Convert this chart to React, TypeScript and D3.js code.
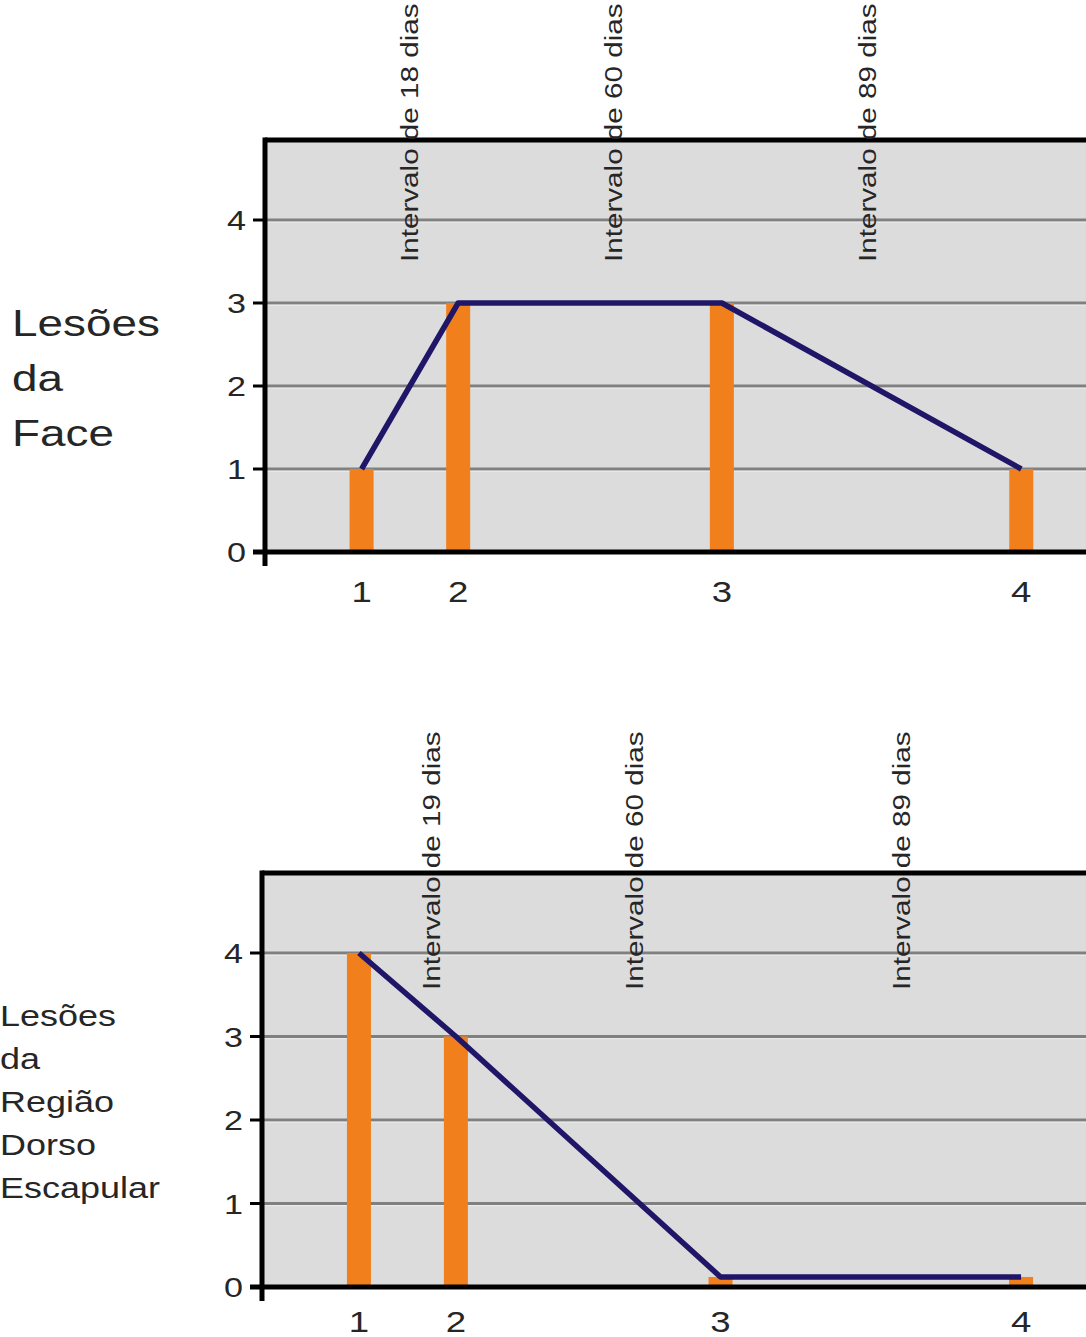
import React from "react";
import * as d3 from "d3";

// ---------- data ----------
const pointLabels = ["1", "2", "3", "4"];
const pointPositions = [1, 2, 4.73, 7.83];
const faceValues = [1, 3, 3, 1];
const dorsoValues = [4, 3, 0.12, 0.12];
const yTickValues = [0, 1, 2, 3, 4];
const faceIntervalLabels = ["Intervalo de 18 dias", "Intervalo de 60 dias", "Intervalo de 89 dias"];
const faceIntervalPositions = [1.584, 3.696, 6.325];
const dorsoIntervalLabels = ["Intervalo de 19 dias", "Intervalo de 60 dias", "Intervalo de 89 dias"];
const dorsoIntervalPositions = [1.837, 3.932, 6.687];
const faceTitleLines = ["Lesões", "da", "Face"];
const dorsoTitleLines = ["Lesões", "da", "Região", "Dorso", "Escapular"];

// ---------- style ----------
const W = 1086;
const H = 1337;
const FONT = "'Liberation Sans', Arial, Helvetica, sans-serif";
const BG = "#dcdcdc";
const GRID = "#808080";
const BAR = "#f07f1c";
const LINE = "#1f1668";
const TEXT = "#262626";

type PanelProps = {
  values: number[];
  intervalLabels: string[];
  intervalPositions: number[];
  titleLines: string[];
  left: number;
  frameTop: number;
  y0: number;
  y5: number;
  titleX: number;
  titleBase: number;
  titleStep: number;
  titleSize: number;
  annotBaseY: number;
  xLabelBase: number;
};

function Panel(p: PanelProps) {
  const x = d3.scaleLinear().domain([0, 8.5]).range([p.left, W]);
  const y = d3.scaleLinear().domain([0, 5]).range([p.y0, p.y5]);
  const lineGen = d3
    .line<number>()
    .x((_, i) => x(pointPositions[i]))
    .y((d) => y(d));
  const barW = 24;
  const sx = 1.22;

  return (
    <g>
      {/* plot background */}
      <rect x={p.left} y={p.frameTop} width={W - p.left} height={p.y0 - p.frameTop} fill={BG} />
      {/* gridlines */}
      {yTickValues
        .filter((t) => t > 0)
        .map((t) => (
          <g key={"g" + t}>
            <line x1={p.left} x2={W} y1={y(t)} y2={y(t)} stroke={GRID} strokeWidth={3} />
            <line x1={p.left} x2={W} y1={y(t) + 2.2} y2={y(t) + 2.2} stroke="#ececec" strokeWidth={1} />
          </g>
        ))}
      {/* bars */}
      {p.values.map((v, i) => (
        <rect
          key={"b" + i}
          x={x(pointPositions[i]) - barW / 2}
          y={y(v)}
          width={barW}
          height={p.y0 - y(v)}
          fill={BAR}
        />
      ))}
      {/* line */}
      <path d={lineGen(p.values) || ""} fill="none" stroke={LINE} strokeWidth={5.5} strokeLinejoin="round" />
      {/* frame */}
      <line x1={p.left} x2={W} y1={p.frameTop} y2={p.frameTop} stroke="#000" strokeWidth={5} />
      <line x1={p.left} x2={p.left} y1={p.frameTop - 2.5} y2={p.y0 + 14} stroke="#000" strokeWidth={5} />
      <line x1={p.left - 12} x2={W} y1={p.y0} y2={p.y0} stroke="#000" strokeWidth={5} />
      {/* y ticks */}
      {yTickValues.map((t) => (
        <g key={"yt" + t}>
          <line x1={p.left - 12} x2={p.left} y1={y(t)} y2={y(t)} stroke="#000" strokeWidth={3} />
          <text
            transform={`translate(${p.left - 19},${y(t) + 10}) scale(${sx},1)`}
            textAnchor="end"
            fontFamily={FONT}
            fontSize={28}
            fill={TEXT}
          >
            {t}
          </text>
        </g>
      ))}
      {/* x labels */}
      {pointLabels.map((l, i) => (
        <text
          key={"xl" + i}
          transform={`translate(${x(pointPositions[i])},${p.xLabelBase}) scale(${sx},1)`}
          textAnchor="middle"
          fontFamily={FONT}
          fontSize={30}
          fill={TEXT}
        >
          {l}
        </text>
      ))}
      {/* interval annotations */}
      {p.intervalLabels.map((l, i) => (
        <text
          key={"an" + i}
          transform={`translate(${x(p.intervalPositions[i])},${p.annotBaseY}) rotate(-90) scale(1.235,1)`}
          fontFamily={FONT}
          fontSize={24}
          fill={TEXT}
        >
          {l}
        </text>
      ))}
      {/* side title */}
      {p.titleLines.map((l, i) => (
        <text
          key={"tt" + i}
          transform={`translate(${p.titleX},${p.titleBase + i * p.titleStep}) scale(1.24,1)`}
          fontFamily={FONT}
          fontSize={p.titleSize}
          fill={TEXT}
        >
          {l}
        </text>
      ))}
    </g>
  );
}

export default function App() {
  return (
    <svg
      width={W}
      height={H}
      viewBox={`0 0 ${W} ${H}`}
      style={{ position: "absolute", left: 0, top: 0, background: "#fff" }}
    >
      <rect x={0} y={0} width={W} height={H} fill="#fff" />
      <Panel
        values={faceValues}
        intervalLabels={faceIntervalLabels}
        intervalPositions={faceIntervalPositions}
        titleLines={faceTitleLines}
        left={265}
        frameTop={140}
        y0={552}
        y5={137}
        titleX={12}
        titleBase={336}
        titleStep={55}
        titleSize={37}
        annotBaseY={262}
        xLabelBase={602}
      />
      <Panel
        values={dorsoValues}
        intervalLabels={dorsoIntervalLabels}
        intervalPositions={dorsoIntervalPositions}
        titleLines={dorsoTitleLines}
        left={262}
        frameTop={873}
        y0={1287}
        y5={869.5}
        titleX={0}
        titleBase={1026}
        titleStep={43}
        titleSize={29}
        annotBaseY={990}
        xLabelBase={1332}
      />
    </svg>
  );
}
